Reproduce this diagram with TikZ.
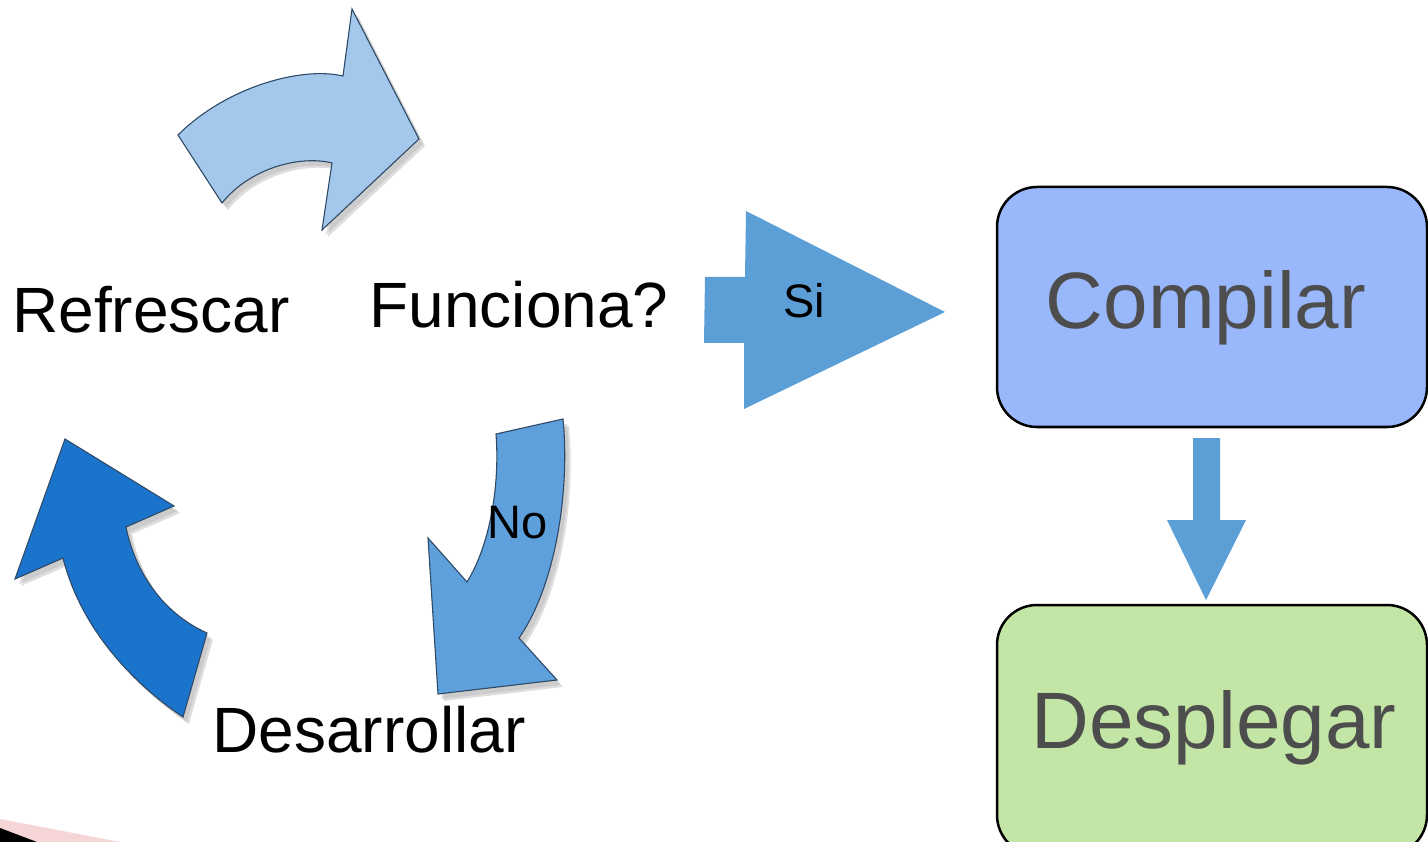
\documentclass[tikz,border=0pt]{standalone}
\usepackage{fontspec}
\setmainfont{Liberation Sans}
\definecolor{lightarr}{HTML}{A4C8EC}
\definecolor{darkarr}{HTML}{1B74CC}
\definecolor{midarr}{HTML}{5EA0DC}
\definecolor{siarr}{HTML}{5B9FD6}
\definecolor{outl}{HTML}{2E4A66}
\definecolor{boxblue}{HTML}{99B8FC}
\definecolor{boxgreen}{HTML}{C3E5A6}
\definecolor{boxtext}{HTML}{4D4D4D}
\definecolor{pinkband}{HTML}{F5D5D5}
\definecolor{shadowc}{HTML}{B8B8B8}
\tikzset{
  blockarrow/.style={draw=outl, line width=1.1pt, line join=miter},
  shadowarrow/.style={fill=shadowc, opacity=0.45},
  roundbox/.style={draw=black, line width=2.5pt, rounded corners=40pt, minimum width=430pt, inner sep=0pt},
  bigtext/.style={font=\fontsize{64}{70}\selectfont, inner sep=0pt, anchor=base},
  boxlabel/.style={font=\fontsize{80}{90}\selectfont, text=boxtext, inner sep=0pt, anchor=base},
  smalltext/.style={font=\fontsize{47}{52}\selectfont, inner sep=0pt, anchor=base}
}
\begin{document}
\begin{tikzpicture}[x=1pt,y=-1pt]
\useasboundingbox (0,0) rectangle (1428,842);
\fill[white] (0,0) rectangle (1428,842);

% ---- top curved arrow (Refrescar -> Funciona?)
\def\toparrow{(178,135) .. controls (225,88) and (300,66) .. (343,76)
  -- (352,9) -- (419,139) -- (322,230) -- (332,163)
  .. controls (300,155) and (250,168) .. (222,203) -- cycle}
\begin{scope}[shift={(4,5)}]\fill[shadowarrow] \toparrow;\end{scope}
\begin{scope}[shift={(6,7)}]\fill[shadowarrow] \toparrow;\end{scope}
\path[blockarrow, fill=lightarr] \toparrow;

% ---- bottom-left curved arrow (Desarrollar -> Refrescar)
\def\leftarrowshape{(65,439) -- (174,506) -- (126,527)
  .. controls (134,568) and (160,612) .. (207,633)
  -- (183,717) .. controls (128,680) and (80,625) .. (63,558)
  -- (15,579) -- cycle}
\begin{scope}[shift={(4,5)}]\fill[shadowarrow] \leftarrowshape;\end{scope}
\begin{scope}[shift={(6,7)}]\fill[shadowarrow] \leftarrowshape;\end{scope}
\path[blockarrow, fill=darkarr] \leftarrowshape;

% ---- No arrow (Funciona? -> Desarrollar)
\def\noarrow{(496,434) -- (563,419)
  .. controls (570,490) and (556,585) .. (519,638)
  -- (557,680) -- (438,694) -- (428,538) -- (467,582)
  .. controls (490,545) and (500,485) .. cycle}
\begin{scope}[shift={(4,5)}]\fill[shadowarrow] \noarrow;\end{scope}
\begin{scope}[shift={(6,7)}]\fill[shadowarrow] \noarrow;\end{scope}
\path[blockarrow, fill=midarr] \noarrow;

% ---- Si arrow
\fill[siarr] (705,277) -- (745,277) -- (746,211) -- (945,312) -- (744,409) -- (744,343) -- (704,343) -- cycle;

% ---- boxes
\node[roundbox, fill=boxblue, minimum height=240pt] (compilar) at (1212,307) {};
\node[roundbox, fill=boxgreen, minimum height=250pt] (desplegar) at (1212,730) {};

% ---- arrow between boxes
\fill[siarr] (1193,438) -- (1220,438) -- (1220,520) -- (1246,520) -- (1206,600) -- (1167,520) -- (1193,520) -- cycle;

% ---- texts
\node[bigtext] (refrescar) at (151,333) {Refrescar};
\node[bigtext] (funciona) at (519,328) {Funciona?};
\node[bigtext] (desarrollar) at (369,752) {Desarrollar};
\node[boxlabel] (tcompilar) at (1206,329) {Compilar};
\node[boxlabel] (tdesplegar) at (1214,748) {Desplegar};
\node[smalltext] (si) at (804,318) {Si};
\node[smalltext] (no) at (518,538) {No};

% ---- corner decoration
\fill[pinkband] (0,819) -- (120,842) -- (0,842) -- cycle;
\fill[black] (0,828) -- (37,842) -- (0,842) -- cycle;
\end{tikzpicture}
\end{document}
